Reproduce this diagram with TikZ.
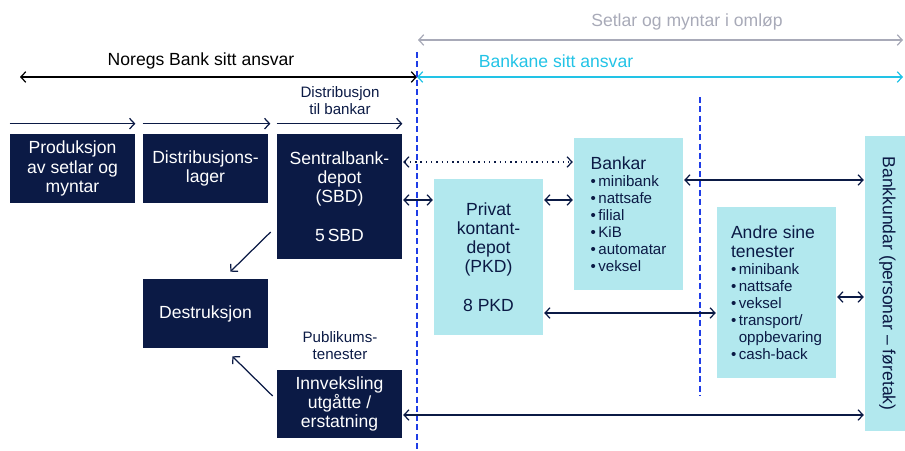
\documentclass[tikz,border=0pt]{standalone}
\usepackage{fontspec}
\setmainfont{Liberation Sans}
\usetikzlibrary{arrows.meta,calc}
\definecolor{navy}{HTML}{0B1A45}
\definecolor{lightcyan}{HTML}{B2E8EE}
\definecolor{cyanline}{HTML}{22C3E6}
\definecolor{grayline}{HTML}{A8AAB8}
\definecolor{splitblue}{HTML}{1F3DE6}
\newcommand{\bpoint}[1]{\textbullet\,#1}
\begin{document}
\begin{tikzpicture}[x=0.02cm, y=-0.02cm, >={Straight Barb[length=2.8pt,width=6pt]}, font=\fontsize{10}{10.9}\selectfont]
    \tikzstyle{dark_box} = [rectangle, fill=navy, text=white, align=center, inner sep=0pt, minimum width=2.5cm]
    \tikzstyle{light_box} = [rectangle, fill=lightcyan, text=navy, inner sep=0pt]
    \tikzstyle{list_box} = [light_box, align=left, font=\fontsize{8.6}{9.7}\selectfont]
    \tikzstyle{edge_style} = [draw=navy, line width=0.7pt, <->, shorten >=0.5pt, shorten <=0.5pt]
    \tikzstyle{flow_style} = [draw=navy, line width=0.7pt, ->]
    \tikzstyle{split_style} = [draw=splitblue, line width=0.8pt, dash pattern=on 3.4pt off 1.9pt]
    \tikzstyle{small_label} = [font=\fontsize{8.6}{9.7}\selectfont, text=navy, align=center]
    \useasboundingbox (0,0) rectangle (905,450);

    % Noregs Bank
    \node[dark_box, minimum height=1.38cm] (prod) at (72.5,168.5) {Produksjon\\av setlar og\\myntar};
    \node[dark_box, minimum height=1.38cm] (lager) at (205.5,168.5) {Distribusjons-\\lager};
    \node[dark_box, minimum height=2.5cm] (sbd) at (339.5,196.5) {Sentralbank-\\depot\\(SBD)\\[10.9pt]5\,SBD};
    \node[dark_box, minimum height=1.38cm] (destr) at (205.5,313.5) {Destruksjon};
    \node[dark_box, minimum height=1.36cm] (innv) at (339.5,404) {Innveksling\\utgåtte /\\erstatning};

    % bankane
    \node[light_box, align=center, minimum width=2.18cm, minimum height=3.12cm] (pkd) at (488.5,257) {Privat\\kontant-\\depot\\(PKD)\\[10.9pt]8 PKD};
    \node[list_box, minimum width=2.18cm, minimum height=3.04cm] (bankar) at (628.5,214)
        {{\fontsize{10}{10}\selectfont Bankar}\\\bpoint{minibank}\\\bpoint{nattsafe}\\\bpoint{filial}\\\bpoint{KiB}\\\bpoint{automatar}\\\bpoint{veksel}};
    \node[list_box, minimum width=2.38cm, minimum height=3.42cm] (andre) at (776.5,292.5)
        {{\fontsize{10}{10}\selectfont Andre sine}\\[1.2pt]{\fontsize{10}{10}\selectfont tenester}\\\bpoint{minibank}\\\bpoint{nattsafe}\\\bpoint{veksel}\\\bpoint{transport/}\\\phantom{\textbullet\,}oppbevaring\\\bpoint{cash-back}};
    \node[light_box, minimum width=0.9cm, minimum height=5.9cm,
        label={[rotate=-90, text=navy]center:Bankkundar (personar – føretak)}] (kundar) at (887.5,283.5) {};

    % ansvar
    \coordinate (nb_left) at (20,77);
    \coordinate (split_mid) at (417,77);
    \coordinate (bank_right) at (903,77);
    \coordinate (omlop_left) at (418,40);
    \coordinate (omlop_right) at (903,40);
    \coordinate (split_top) at (417,52);
    \coordinate (split_bottom) at (417,450);
    \coordinate (bank_split_top) at (700,97);
    \coordinate (bank_split_bottom) at (700,395);

    \node[text=grayline] (omlop_label) at (687,22) {Setlar og myntar i omløp};
    \node[text=black] (nb_label) at (201,61) {Noregs Bank sitt ansvar};
    \node[text=cyanline] (bank_label) at (556,61) {Bankane sitt ansvar};
    \node[small_label] (distr_label) at (340,101) {Distribusjon\\til bankar};
    \node[small_label] (publ_label) at (340,346) {Publikums-\\tenester};

    \draw[grayline, line width=0.7pt, <->] (omlop_left) -- (omlop_right);
    \draw[black, line width=0.7pt, <->] (nb_left) -- (split_mid);
    \draw[cyanline, line width=0.7pt, <->] (split_mid) -- (bank_right);
    \draw[split_style] (split_top) -- (split_bottom);
    \draw[split_style] (bank_split_top) -- (bank_split_bottom);

    % flyt
    \draw[flow_style] ($(prod.north west)+(0,-10)$) -- ($(prod.north east)+(0,-10)$);
    \draw[flow_style] ($(lager.north west)+(0,-10)$) -- ($(lager.north east)+(2,-10)$);
    \draw[flow_style] ($(sbd.north west)+(0,-10)$) -- ($(sbd.north east)+(0,-10)$);
    \draw[flow_style] ($(sbd.west)+(-6,35.5)$) -- ($(destr.north east)+(-38,-7)$);
    \draw[flow_style] ($(innv.west)+(-4,-8)$) -- ($(destr.south east)+(-36,8)$);

    \draw[edge_style, dash pattern=on 0.8pt off 2.2pt] (sbd.east |- 0,162) -- (bankar.west |- 0,162);
    \draw[edge_style] (sbd.east |- 0,200) -- (pkd.west |- 0,200);
    \draw[edge_style] (pkd.east |- 0,200) -- (bankar.west |- 0,200);
    \draw[edge_style] (bankar.east |- 0,180) -- (kundar.west |- 0,180);
    \draw[edge_style] (pkd.east |- 0,313) -- (andre.west |- 0,313);
    \draw[edge_style] (andre.east |- 0,297) -- (kundar.west |- 0,297);
    \draw[edge_style] (innv.east |- 0,415) -- (kundar.west |- 0,415);
\end{tikzpicture}
\end{document}
